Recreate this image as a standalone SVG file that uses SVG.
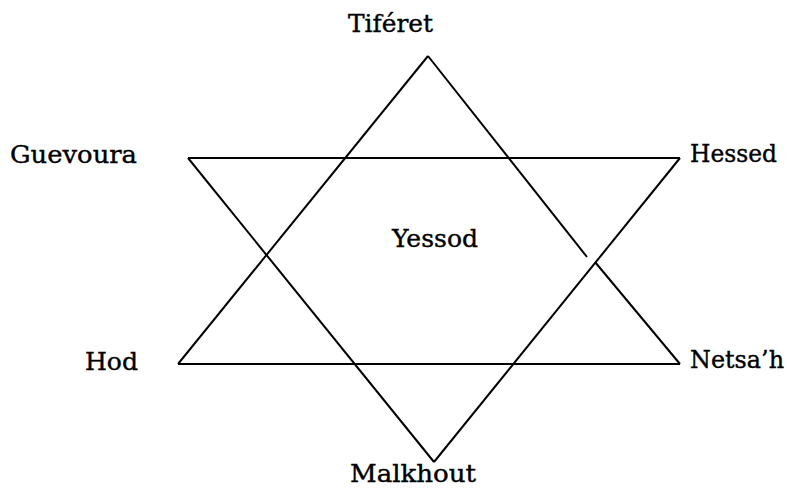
<svg xmlns="http://www.w3.org/2000/svg" width="787" height="488" viewBox="0 0 787 488">
<style>
.lbl{font-family:"DejaVu Serif","Liberation Serif",serif;font-size:25px;fill:#000;stroke:#000;stroke-width:0.4}
.ln{stroke:#000;stroke-width:2;fill:none;stroke-linecap:butt}
</style>
<rect width="787" height="488" fill="#fff"/>
<g id="connectors">
<line class="ln" x1="178" y1="364" x2="680" y2="364"/>
<line class="ln" x1="428" y1="56" x2="178" y2="364"/>
<line class="ln" x1="428" y1="56" x2="587" y2="257"/>
<line class="ln" x1="595" y1="262" x2="680" y2="364"/>
<line class="ln" x1="188" y1="158" x2="680" y2="158"/>
<line class="ln" x1="188" y1="158" x2="434" y2="462"/>
<line class="ln" x1="680" y1="158" x2="434" y2="462"/>
</g>
<g id="tiferet"><text class="lbl" x="348" y="32" textLength="85" lengthAdjust="spacingAndGlyphs">Tiféret</text></g>
<g id="guevoura"><text class="lbl" x="10" y="163" textLength="127" lengthAdjust="spacingAndGlyphs">Guevoura</text></g>
<g id="hessed"><text class="lbl" x="690" y="162" textLength="87" lengthAdjust="spacingAndGlyphs">Hessed</text></g>
<g id="yessod"><text class="lbl" x="392" y="247" textLength="86" lengthAdjust="spacingAndGlyphs">Yessod</text></g>
<g id="hod"><text class="lbl" x="85" y="370" textLength="53" lengthAdjust="spacingAndGlyphs">Hod</text></g>
<g id="netsah"><text class="lbl" x="690" y="368" textLength="94" lengthAdjust="spacingAndGlyphs">Netsa’h</text></g>
<g id="malkhout"><text class="lbl" x="350" y="482" textLength="126" lengthAdjust="spacingAndGlyphs">Malkhout</text></g>
</svg>
